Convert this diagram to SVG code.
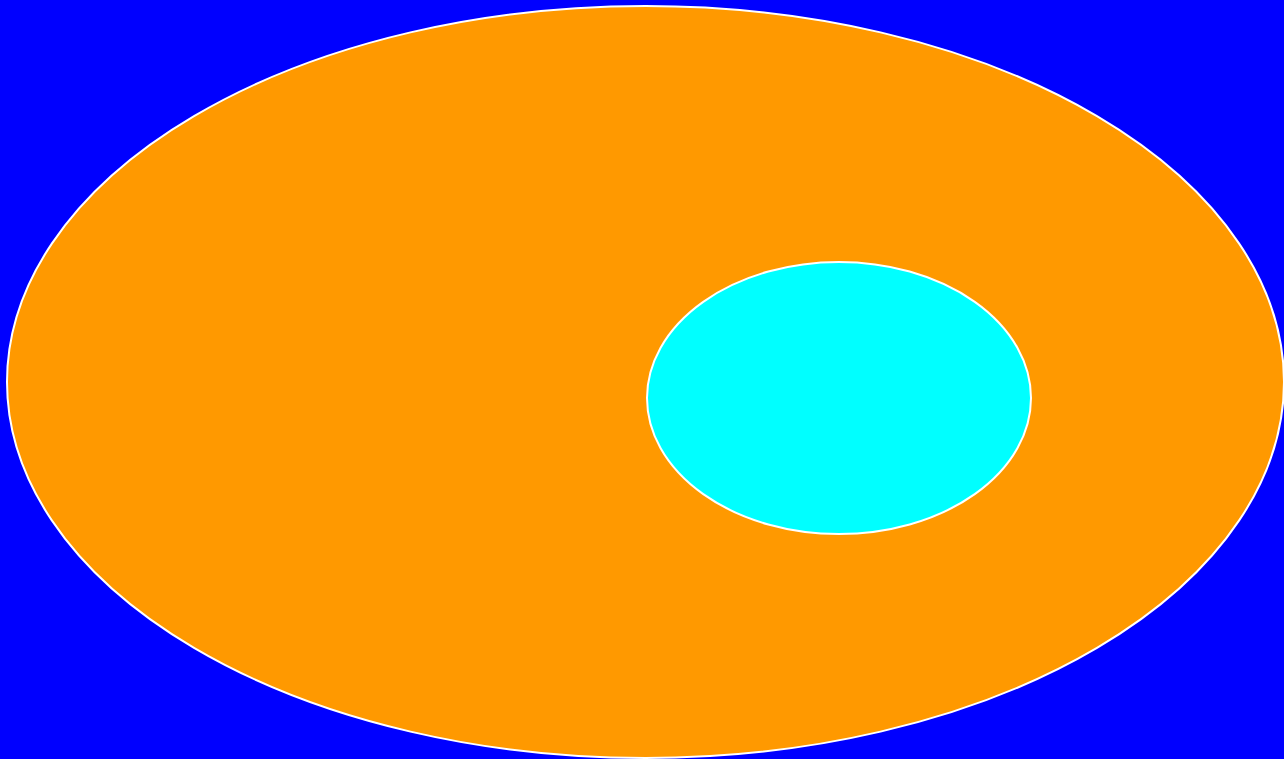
<svg xmlns="http://www.w3.org/2000/svg" width="1284" height="759" viewBox="0 0 1284 759">
<style>
.shape{stroke:#ffffff;stroke-width:2}
</style>
<rect x="0" y="0" width="1284" height="759" fill="#0000ff"/>
<g id="outer">
<ellipse class="shape" cx="645.5" cy="382" rx="638.5" ry="376" fill="#ff9900"/>
</g>
<g id="inner">
<ellipse class="shape" cx="839" cy="398" rx="192" ry="136" fill="#00ffff"/>
</g>
<g id="connectors"></g>
</svg>
